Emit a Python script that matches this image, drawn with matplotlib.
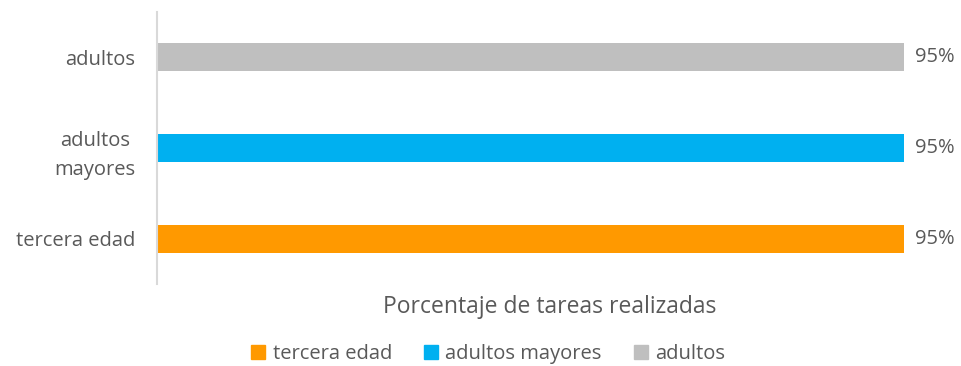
import matplotlib.pyplot as plt
from matplotlib.patches import Patch

# Data
categories = ["tercera edad", "adultos\nmayores", "adultos"]
series_names = ["tercera edad", "adultos mayores", "adultos"]
values = [0.95, 0.95, 0.95]
labels = ["95%", "95%", "95%"]
colors = ["#FF9900", "#00B0F0", "#BFBFBF"]

plt.rcParams['font.family'] = ['Open Sans', 'DejaVu Sans']
text_color = "#595959"

fig = plt.figure(figsize=(9.61, 3.66), dpi=100)
ax = fig.add_axes([0.1634, 0.224, 0.818, 0.743])

y = range(len(categories))
ax.barh(y, values, height=0.31, color=colors)
for yi, v, lab in zip(y, values, labels):
    ax.text(v + 0.014, yi, lab, va='center', ha='left', fontsize=14.5, color=text_color)

ax.set_xlim(0, 1.0)
ax.set_ylim(-0.5, 2.5)
ax.set_yticks(list(y))
ax.set_yticklabels(categories, fontsize=14.5, color=text_color, linespacing=1.65,
                   multialignment='center')
ax.tick_params(axis='y', length=0, pad=15.5)
ax.set_xticks([])
for s in ['top', 'right', 'bottom']:
    ax.spines[s].set_visible(False)
ax.spines['left'].set_color("#D9D9D9")
ax.spines['left'].set_linewidth(1.5)

fig.text(0.572, 0.16, "Porcentaje de tareas realizadas", ha='center', va='center',
         fontsize=16.5, color=text_color)

handles = [Patch(color=c, label=n) for c, n in zip(colors, series_names)]
fig.legend(handles=handles, loc='center', bbox_to_anchor=(0.508, 0.033), ncol=3,
           frameon=False, fontsize=14.5, handlelength=0.7, handleheight=0.7,
           handletextpad=0.35, columnspacing=1.6, labelcolor=text_color)

fig.savefig("out.png", dpi=100)
